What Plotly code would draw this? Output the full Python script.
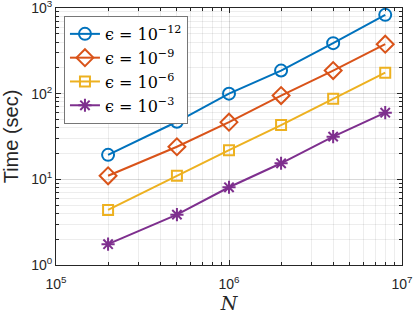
import plotly.graph_objects as go

N = [2e5, 5e5, 1e6, 2e6, 4e6, 8e6]
t_12 = [19.3, 47, 100, 186, 389, 832]
t_9 = [11, 24, 46.5, 95, 186, 378]
t_6 = [4.4, 11, 21.9, 43, 87, 176]
t_3 = [1.75, 3.87, 8.08, 15.4, 31.5, 60]
labels = ["ϵ = 10<sup>−12</sup>", "ϵ = 10<sup>−9</sup>", "ϵ = 10<sup>−6</sup>", "ϵ = 10<sup>−3</sup>"]
x_ticks = [1e5, 1e6, 1e7]
x_ticktext = ["10<sup>5</sup>", "10<sup>6</sup>", "10<sup>7</sup>"]
y_ticks = [1, 10, 100, 1000]
y_ticktext = ["10<sup>0</sup>", "10<sup>1</sup>", "10<sup>2</sup>", "10<sup>3</sup>"]
x_minor = [m * d for d in (1e5, 1e6) for m in range(2, 10)]
y_minor = [m * d for d in (1, 10, 100) for m in range(2, 10)]

series = [t_12, t_9, t_6, t_3]
colors = ["#0072BD", "#D95319", "#EDB120", "#7E2F8E"]
symbols = ["circle-open", "diamond-open", "square-open", "asterisk-open"]
sizes = [12, 13, 10, 11]

fig = go.Figure()
for y, lab, c, s, sz in zip(series, labels, colors, symbols, sizes):
    fig.add_trace(go.Scatter(x=N, y=y, name=lab, mode="lines+markers",
                             line=dict(color=c, width=2),
                             marker=dict(symbol=s, size=sz, color=c, line=dict(color=c, width=2))))

axis_common = dict(type="log", showline=True, linecolor="#262626", linewidth=1, mirror="ticks",
                   ticks="inside", ticklen=5, tickcolor="#262626",
                   showgrid=True, gridcolor="rgba(0,0,0,0.15)", gridwidth=1,
                   zeroline=False, tickmode="array", ticklabeloverflow="allow",
                   tickfont=dict(family="Liberation Sans, Arial", size=14, color="#262626"))
minor_common = dict(tickmode="array", ticks="inside", ticklen=3, tickcolor="#262626",
                    showgrid=True, gridcolor="rgba(0,0,0,0.07)")

fig.update_xaxes(**axis_common, range=[5, 7], tickvals=x_ticks, ticktext=x_ticktext,
                 ticklabelstandoff=6,
                 minor=dict(**minor_common, tickvals=x_minor),
                 title=dict(text="<i>N</i>", font=dict(family="DejaVu Serif", size=19, color="#262626"), standoff=1))
fig.update_yaxes(**axis_common, range=[0, 3], tickvals=y_ticks, ticktext=y_ticktext,
                 minor=dict(**minor_common, tickvals=y_minor),
                 title=dict(text="Time (sec)", font=dict(family="Liberation Sans, Arial", size=20, color="#262626"), standoff=8))

fig.update_layout(width=414, height=314, margin=dict(l=56, r=12, t=8, b=49, autoexpand=False),
                  paper_bgcolor="white", plot_bgcolor="white",
                  legend=dict(x=0.023, y=0.969, xanchor="left", yanchor="top",
                              bgcolor="white", bordercolor="#777777", borderwidth=1,
                              font=dict(family="DejaVu Serif", size=16, color="#000000"),
                              tracegroupgap=0, itemwidth=30))
fig.write_html("out.html", config={"displayModeBar": False},
               post_script="document.body.style.margin='0';")
